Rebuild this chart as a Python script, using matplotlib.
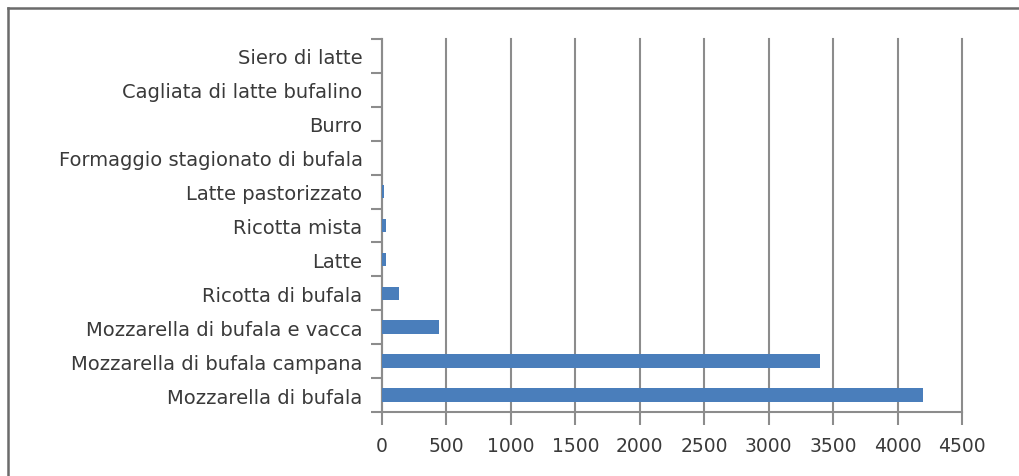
import matplotlib
matplotlib.use("Agg")
import matplotlib.pyplot as plt
from matplotlib.lines import Line2D

# Products (bottom to top) and quantities
products = [
    "Mozzarella di bufala",
    "Mozzarella di bufala campana",
    "Mozzarella di bufala e vacca",
    "Ricotta di bufala",
    "Latte",
    "Ricotta mista",
    "Latte pastorizzato",
    "Formaggio stagionato di bufala",
    "Burro",
    "Cagliata di latte bufalino",
    "Siero di latte",
]
quantities = [4200, 3400, 440, 130, 30, 30, 15, 3, 2, 1, 1]
x_ticks = [0, 500, 1000, 1500, 2000, 2500, 3000, 3500, 4000, 4500]

W, H = 1020, 477
fig = plt.figure(figsize=(W / 100, H / 100), dpi=100)
ax = fig.add_axes([382 / W, 1 - 413 / H, 580 / W, 373 / H])

grid_col = "#8c8c8c"
text_col = "#3a3a3a"
font = "DejaVu Sans"

ax.barh(range(len(products)), quantities, height=0.4, color="#4A7EBB", zorder=3)

ax.set_xlim(0, 4500)
ax.set_ylim(-0.5, len(products) - 0.5)
ax.set_xticks(x_ticks)
ax.set_xticklabels([str(t) for t in x_ticks])
ax.set_yticks([i - 0.5 for i in range(len(products) + 1)])
ax.set_yticklabels([])
ax.set_yticks(range(len(products)), minor=True)
ax.set_yticklabels(products, minor=True)

ax.grid(axis="x", color=grid_col, linewidth=1.5, zorder=0)
for gl in ax.get_xgridlines():
    gl.set_clip_on(False)
for side in ("top", "right"):
    ax.spines[side].set_visible(False)
for side in ("left", "bottom"):
    ax.spines[side].set_color(grid_col)
    ax.spines[side].set_linewidth(1.5)

ax.tick_params(axis="x", which="major", direction="out", length=9, width=1.5,
               color=grid_col, labelcolor=text_col, labelsize=13.5, pad=8)
ax.tick_params(axis="y", which="major", direction="out", length=8, width=1.5,
               color=grid_col)
ax.tick_params(axis="y", which="minor", length=0, labelcolor=text_col,
               labelsize=14, pad=14)

for lbl in ax.get_xticklabels() + ax.get_yticklabels(minor=True):
    lbl.set_fontfamily(font)

# Outer frame (top and left edges)
fig.add_artist(Line2D([8 / W, 1], [1 - 9 / H, 1 - 9 / H], color="#6b6b6b",
                      linewidth=1.8, transform=fig.transFigure))
fig.add_artist(Line2D([8 / W, 8 / W], [0, 1 - 9 / H], color="#6b6b6b",
                      linewidth=1.8, transform=fig.transFigure))

fig.savefig("out.png", dpi=100)
